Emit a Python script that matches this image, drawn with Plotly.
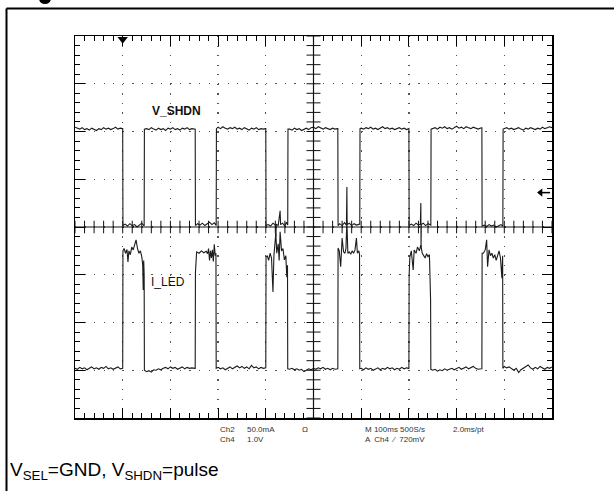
import plotly.graph_objects as go

# ---------------- data (time in divisions, amplitude in divisions) ----------------
vshdn_points = [
    (0.00, 2.09), (0.05, 2.07), (0.10, 2.05), (0.15, 2.08), (0.20, 2.04), (0.25, 2.06), (0.30, 2.03),
    (0.35, 2.07), (0.40, 2.05), (0.45, 2.02), (0.50, 2.06), (0.55, 2.04), (0.60, 2.08), (0.65, 2.05),
    (0.70, 2.07), (0.75, 2.04), (0.80, 2.06), (0.85, 2.09), (0.90, 2.05), (0.95, 2.07), (0.99, 2.06),
    (1.00, 2.06), (1.005, 0.03),
    (1.05, 0.06), (1.10, 0.02), (1.15, 0.07), (1.20, 0.03), (1.25, 0.05), (1.30, 0.00), (1.35, 0.04),
    (1.40, 0.08), (1.44, 0.03),
    (1.45, 0.03), (1.455, 2.05),
    (1.50, 2.06), (1.55, 2.04), (1.60, 2.08), (1.65, 2.05), (1.70, 2.03), (1.75, 2.07), (1.80, 2.04),
    (1.85, 2.06), (1.90, 2.02), (1.95, 2.07), (2.00, 2.05), (2.05, 2.08), (2.10, 2.04), (2.15, 2.06),
    (2.20, 2.03), (2.25, 2.07), (2.30, 2.05), (2.35, 2.08), (2.40, 2.04), (2.45, 2.06), (2.51, 2.05),
    (2.52, 2.05), (2.525, 0.03),
    (2.57, 0.07), (2.62, 0.04), (2.67, 0.08), (2.72, 0.03), (2.77, 0.06), (2.82, 0.10), (2.87, 0.05),
    (2.92, 0.09), (2.955, 0.04),
    (2.96, 0.04), (2.965, 2.06),
    (3.00, 2.09), (3.05, 2.06), (3.10, 2.10), (3.15, 2.07), (3.20, 2.05), (3.25, 2.08), (3.30, 2.06),
    (3.35, 2.09), (3.40, 2.05), (3.45, 2.07), (3.50, 2.04), (3.55, 2.08), (3.60, 2.06), (3.65, 2.03),
    (3.70, 2.07), (3.75, 2.05), (3.80, 2.08), (3.85, 2.04), (3.90, 2.06), (3.95, 2.05), (3.99, 2.06),
    (4.00, 2.06), (4.005, 0.03),
    (4.05, 0.05), (4.10, 0.02), (4.15, 0.08), (4.20, 0.04), (4.21, -0.20), (4.22, 0.06), (4.26, 0.03),
    (4.30, 0.34), (4.31, 0.05), (4.35, 0.08), (4.40, 0.02), (4.43, 0.10), (4.455, 0.04),
    (4.46, 0.04), (4.465, 2.05),
    (4.50, 2.05), (4.55, 2.03), (4.60, 2.07), (4.65, 2.04), (4.70, 2.06), (4.75, 2.02), (4.80, 2.05),
    (4.85, 2.07), (4.90, 2.04), (4.95, 2.08), (5.00, 2.09), (5.05, 2.06), (5.10, 2.10), (5.15, 2.07),
    (5.20, 2.05), (5.25, 2.08), (5.30, 2.06), (5.35, 2.04), (5.40, 2.07), (5.45, 2.05), (5.50, 2.06),
    (5.51, 2.06), (5.515, 0.03),
    (5.55, 0.07), (5.60, 0.03), (5.65, 0.09), (5.69, 0.04), (5.70, 0.84), (5.705, 0.05), (5.75, 0.08),
    (5.80, 0.03), (5.85, 0.07), (5.90, 0.04), (5.965, 0.06),
    (5.97, 0.06), (5.975, 2.06),
    (6.00, 2.07), (6.05, 2.05), (6.10, 2.08), (6.15, 2.06), (6.20, 2.09), (6.25, 2.05), (6.30, 2.07),
    (6.35, 2.04), (6.40, 2.08), (6.45, 2.10), (6.50, 2.06), (6.55, 2.08), (6.60, 2.05), (6.65, 2.07),
    (6.70, 2.04), (6.75, 2.06), (6.80, 2.08), (6.85, 2.05), (6.90, 2.07), (6.95, 2.04), (6.99, 2.06),
    (7.00, 2.06), (7.005, 0.03),
    (7.05, 0.06), (7.10, 0.03), (7.15, 0.08), (7.20, 0.04), (7.24, 0.06), (7.25, 0.50), (7.255, -0.42),
    (7.26, 0.05), (7.30, 0.08), (7.35, 0.03), (7.40, 0.07), (7.455, 0.04),
    (7.46, 0.04), (7.465, 2.05),
    (7.50, 2.06), (7.55, 2.08), (7.60, 2.05), (7.65, 2.09), (7.70, 2.07), (7.75, 2.10), (7.80, 2.06),
    (7.85, 2.08), (7.90, 2.05), (7.95, 2.09), (8.00, 2.11), (8.05, 2.07), (8.10, 2.09), (8.15, 2.06),
    (8.20, 2.10), (8.25, 2.08), (8.30, 2.06), (8.35, 2.09), (8.40, 2.07), (8.45, 2.05), (8.52, 2.08),
    (8.53, 2.08), (8.535, 0.02),
    (8.58, 0.04), (8.63, 0.01), (8.68, 0.05), (8.73, 0.02), (8.78, 0.04), (8.83, 0.00), (8.88, 0.03),
    (8.93, 0.05), (8.965, 0.02),
    (8.97, 0.02), (8.975, 2.05),
    (9.00, 2.06), (9.05, 2.08), (9.10, 2.05), (9.15, 2.07), (9.20, 2.04), (9.25, 2.06), (9.30, 2.08),
    (9.35, 2.05), (9.40, 2.03), (9.45, 2.07), (9.50, 2.05), (9.55, 2.08), (9.60, 2.06), (9.65, 2.04),
    (9.70, 2.07), (9.75, 2.05), (9.80, 2.09), (9.85, 2.06), (9.90, 2.08), (9.95, 2.10), (10.00, 2.08),
]

iled_points = [
    (0.00, -2.96), (0.05, -2.98), (0.10, -2.94), (0.15, -2.97), (0.20, -2.95), (0.25, -2.99), (0.30, -2.96),
    (0.35, -2.93), (0.40, -2.97), (0.45, -2.95), (0.50, -2.98), (0.55, -2.94), (0.60, -2.96), (0.65, -2.92),
    (0.70, -2.97), (0.75, -2.95), (0.80, -2.98), (0.85, -2.96), (0.90, -2.93), (0.95, -2.97), (0.995, -2.96),
    (1.00, -2.96), (1.005, -0.50), (1.03, -0.45), (1.06, -0.55), (1.09, -0.47), (1.11, -0.73), (1.13, -0.50),
    (1.16, -0.58), (1.19, -0.42), (1.22, -0.48), (1.25, -0.35), (1.28, -0.27), (1.31, -0.45), (1.34, -0.55),
    (1.37, -0.50), (1.40, -0.62), (1.42, -0.80), (1.43, -1.32), (1.44, -0.70), (1.45, -1.00), (1.455, -3.00),
    (1.50, -3.03), (1.55, -3.01), (1.60, -3.04), (1.65, -2.99), (1.70, -3.00), (1.75, -2.97), (1.80, -2.99),
    (1.85, -2.96), (1.90, -2.94), (1.95, -2.97), (2.00, -2.93), (2.05, -2.96), (2.10, -2.94), (2.15, -2.98),
    (2.20, -2.95), (2.25, -2.93), (2.30, -2.97), (2.35, -2.94), (2.40, -2.96), (2.45, -2.95), (2.515, -2.96),
    (2.52, -2.96), (2.525, -0.95), (2.55, -0.52), (2.60, -0.55), (2.65, -0.50), (2.70, -0.54), (2.75, -0.51),
    (2.78, -0.56), (2.80, -0.45), (2.82, -0.70), (2.84, -0.50), (2.86, -0.65), (2.88, -0.48), (2.90, -0.72),
    (2.92, -0.36), (2.94, -0.60), (2.955, -0.55), (2.96, -2.96),
    (3.00, -2.94), (3.05, -2.97), (3.10, -2.95), (3.15, -2.99), (3.20, -2.96), (3.25, -2.93), (3.30, -2.97),
    (3.35, -2.94), (3.40, -2.91), (3.45, -2.95), (3.50, -2.92), (3.55, -2.96), (3.60, -2.93), (3.65, -2.97),
    (3.70, -2.90), (3.75, -2.95), (3.80, -2.93), (3.85, -2.97), (3.90, -2.94), (3.95, -2.96), (3.995, -2.95),
    (4.00, -2.95), (4.005, -0.63), (4.03, -0.60), (4.06, -0.70), (4.09, -0.55), (4.12, -0.65), (4.15, -1.36),
    (4.17, -0.60), (4.19, -0.40), (4.21, -0.13), (4.23, -0.55), (4.26, -0.35), (4.28, -0.70), (4.30, -0.10),
    (4.33, -0.50), (4.36, -0.45), (4.39, -0.69), (4.42, -0.60), (4.44, -1.05), (4.455, -0.80), (4.46, -2.97),
    (4.50, -2.98), (4.55, -2.96), (4.60, -2.99), (4.65, -2.97), (4.70, -3.00), (4.75, -2.98), (4.80, -3.03),
    (4.85, -3.00), (4.90, -2.97), (4.95, -2.99), (5.00, -2.96), (5.05, -2.98), (5.10, -2.95), (5.15, -2.97),
    (5.20, -2.94), (5.25, -2.98), (5.30, -2.96), (5.35, -2.99), (5.40, -2.96), (5.45, -2.98), (5.505, -2.97),
    (5.51, -2.97), (5.515, -0.44), (5.54, -0.50), (5.57, -0.83), (5.60, -0.23), (5.63, -0.52), (5.66, -0.55),
    (5.68, -0.45), (5.70, 0.13), (5.72, -0.55), (5.75, -0.52), (5.78, -0.57), (5.81, -0.50), (5.84, -0.55),
    (5.87, -0.48), (5.90, -0.23), (5.92, -0.55), (5.95, -0.50), (5.965, -0.56), (5.97, -2.97),
    (6.00, -2.96), (6.05, -2.99), (6.10, -2.95), (6.15, -2.98), (6.20, -2.96), (6.25, -3.00), (6.30, -2.97),
    (6.35, -2.95), (6.40, -2.99), (6.45, -2.96), (6.50, -2.98), (6.55, -2.94), (6.60, -2.97), (6.65, -2.95),
    (6.70, -2.99), (6.75, -2.96), (6.80, -2.98), (6.85, -2.94), (6.90, -2.97), (6.95, -2.95), (6.995, -2.96),
    (7.00, -2.96), (7.005, -1.00), (7.02, -0.63), (7.05, -0.50), (7.09, -0.90), (7.11, -0.48), (7.15, -0.55),
    (7.18, -0.42), (7.22, -0.50), (7.25, -0.38), (7.28, -0.55), (7.31, -0.60), (7.34, -0.65), (7.37, -0.56),
    (7.40, -0.62), (7.43, -0.58), (7.455, -1.53), (7.46, -2.98),
    (7.50, -3.00), (7.55, -2.98), (7.60, -3.02), (7.65, -2.99), (7.70, -3.01), (7.75, -2.97), (7.80, -3.00),
    (7.85, -2.98), (7.90, -2.96), (7.95, -2.99), (8.00, -2.97), (8.05, -2.94), (8.10, -2.98), (8.15, -2.96),
    (8.20, -2.93), (8.25, -2.97), (8.30, -2.95), (8.35, -2.92), (8.40, -2.96), (8.45, -2.98), (8.525, -2.97),
    (8.53, -2.97), (8.535, -0.55), (8.56, -0.55), (8.60, -0.48), (8.63, -0.27), (8.65, -0.83), (8.68, -0.48),
    (8.71, -0.60), (8.74, -0.55), (8.77, -0.65), (8.80, -0.58), (8.83, -0.70), (8.86, -0.62), (8.89, -0.50),
    (8.92, -0.65), (8.95, -1.07), (8.965, -0.60), (8.97, -2.96),
    (9.00, -2.92), (9.05, -2.95), (9.10, -2.93), (9.15, -2.97), (9.20, -3.00), (9.25, -2.96), (9.30, -3.05),
    (9.35, -2.99), (9.40, -2.96), (9.45, -2.93), (9.50, -2.89), (9.55, -2.95), (9.60, -2.98), (9.65, -2.94),
    (9.70, -2.97), (9.75, -2.92), (9.80, -2.95), (9.85, -2.98), (9.90, -2.94), (9.95, -2.96), (10.00, -2.93),
]

trigger_pos = 1.0          # division where the trigger marker sits
trigger_level = 0.72       # 720 mV at 1 V/div
trace_labels = ["V_SHDN", "I_LED"]
readout_row1 = ["Ch2", "50.0mA", "Ω", "M 100ms 500S/s", "2.0ms/pt"]
readout_row2 = ["Ch4", "1.0V", "A  Ch4  ⁄  720mV"]
caption = "V<sub>SEL</sub>=GND, V<sub>SHDN</sub>=pulse"

# ---------------- layout geometry ----------------
W, H = 614, 491
PX0, PX1, PY0, PY1 = 75, 552, 36, 418


def pxx(x):
    return x / W


def pxy(y):
    return 1 - y / H


fig = go.Figure()

# center-line ticks of the graticule
cx = [i * 0.2 for i in range(51)]
cy = [-4 + i * 0.2 for i in range(41)]
fig.add_trace(go.Scatter(x=cx, y=[0] * len(cx), mode="markers",
                         marker=dict(symbol="line-ns", size=9, line=dict(width=1, color="#111")),
                         hoverinfo="skip", showlegend=False))
fig.add_trace(go.Scatter(x=[5] * len(cy), y=cy, mode="markers",
                         marker=dict(symbol="line-ew", size=10, line=dict(width=1, color="#111")),
                         hoverinfo="skip", showlegend=False))

# waveforms
vt, vv = zip(*vshdn_points)
it, iv = zip(*iled_points)
fig.add_trace(go.Scatter(x=vt, y=vv, mode="lines", line=dict(color="#1c1c1c", width=1.1),
                         hoverinfo="skip", showlegend=False, name=trace_labels[0]))
fig.add_trace(go.Scatter(x=it, y=iv, mode="lines", line=dict(color="#1c1c1c", width=1.1),
                         hoverinfo="skip", showlegend=False, name=trace_labels[1]))

# trigger position marker (top) and trigger level arrow (right)
fig.add_trace(go.Scatter(x=[trigger_pos], y=[3.93], mode="markers",
                         marker=dict(symbol="triangle-down", size=9, color="black"),
                         cliponaxis=False, hoverinfo="skip", showlegend=False))
fig.add_trace(go.Scatter(x=[9.76, 9.96], y=[trigger_level, trigger_level], mode="lines",
                         line=dict(color="black", width=1.5), hoverinfo="skip", showlegend=False))
fig.add_trace(go.Scatter(x=[9.76], y=[trigger_level], mode="markers",
                         marker=dict(symbol="triangle-left", size=7, color="black"),
                         hoverinfo="skip", showlegend=False))

axis_common = dict(
    showline=True, linecolor="black", linewidth=1.5, mirror="allticks",
    ticks="inside", ticklen=10, tickwidth=1, tickcolor="black",
    showticklabels=False, showgrid=True, gridcolor="#555", gridwidth=1.3,
    griddash="1.3px,8.24px", zeroline=False, fixedrange=True,
    minor=dict(dtick=0.2, ticklen=5, tickwidth=1, tickcolor="black", ticks="inside", showgrid=False),
)

fig.update_layout(
    width=W, height=H, autosize=False,
    margin=dict(l=0, r=0, t=0, b=0),
    paper_bgcolor="white", plot_bgcolor="white",
    hovermode=False,
    xaxis=dict(range=[0, 10], dtick=1, tick0=0, domain=[pxx(PX0), pxx(PX1)], **axis_common),
    yaxis=dict(range=[-4, 4], dtick=1, tick0=0, domain=[pxy(PY1), pxy(PY0)], **axis_common),
    shapes=[
        dict(type="line", xref="x", yref="y", x0=5, x1=5, y0=-4, y1=4, line=dict(color="#111", width=1.2)),
        dict(type="line", xref="x", yref="y", x0=0, x1=10, y0=0, y1=0, line=dict(color="#111", width=1.2)),
        # outer figure frame (cropped)
        dict(type="line", xref="paper", yref="paper", x0=pxx(6.5), x1=1.01, y0=pxy(8.5), y1=pxy(8.5),
             line=dict(color="black", width=2)),
        dict(type="line", xref="paper", yref="paper", x0=pxx(6.5), x1=pxx(6.5), y0=pxy(8.5), y1=-0.01,
             line=dict(color="black", width=2)),
        dict(type="circle", xref="paper", yref="paper", x0=pxx(39), x1=pxx(51), y0=pxy(4), y1=pxy(-7),
             fillcolor="black", line=dict(width=0)),
    ],
)

ann = []
ann.append(dict(x=pxx(150), y=pxy(111), text="<b>" + trace_labels[0] + "</b>", xanchor="left", yanchor="middle",
                font=dict(family="Liberation Sans, Arial", size=12, color="#111")))
ann.append(dict(x=pxx(149), y=pxy(282), text=trace_labels[1], xanchor="left", yanchor="middle",
                font=dict(family="Liberation Sans, Arial", size=12, color="#111")))

row1_x = [218, 245, 300, 363, 451]
for xx, tx in zip(row1_x, readout_row1):
    ann.append(dict(x=pxx(xx), y=pxy(429), text=tx, xanchor="left", yanchor="middle",
                    font=dict(family="Liberation Sans, Arial", size=8, color="#333")))
row2_x = [218, 245, 363]
for xx, tx in zip(row2_x, readout_row2):
    ann.append(dict(x=pxx(xx), y=pxy(439), text=tx, xanchor="left", yanchor="middle",
                    font=dict(family="Liberation Sans, Arial", size=8, color="#333")))

ann.append(dict(x=pxx(8), y=pxy(471), text=caption, xanchor="left", yanchor="middle",
                font=dict(family="Liberation Sans, Arial", size=19, color="black")))

for a in ann:
    a.update(xref="paper", yref="paper", showarrow=False)
fig.update_layout(annotations=ann)

fig.write_html("out.html",
               config={"displayModeBar": False, "staticPlot": True},
               post_script="document.body.style.margin='0px';document.body.style.overflow='hidden';")
